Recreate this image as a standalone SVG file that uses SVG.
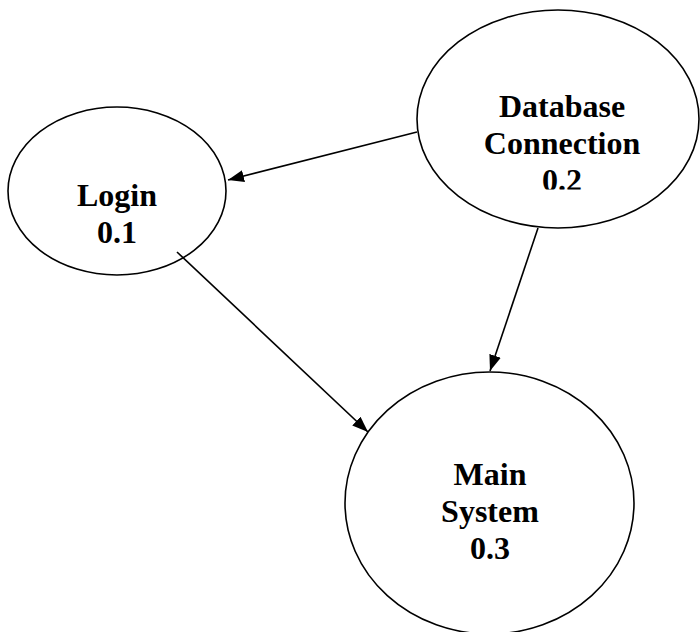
<svg xmlns="http://www.w3.org/2000/svg" width="700" height="632" viewBox="0 0 700 632">
<style>
.node { fill: #ffffff; stroke: #000000; stroke-width: 1.6; }
.lbl { font-family: "Liberation Serif", "Times New Roman", serif; font-weight: bold; font-size: 32px; fill: #000000; text-anchor: middle; }
.edge { stroke: #000000; stroke-width: 1.6; fill: none; marker-end: url(#arrow); }
</style>
<defs>
<marker id="arrow" markerUnits="userSpaceOnUse" markerWidth="16" markerHeight="12" refX="16" refY="6" orient="auto">
<path d="M0,0 L16,6 L0,12 z" fill="#000000"/>
</marker>
<clipPath id="dbclip"><rect x="400" y="0" width="300" height="189.5"/></clipPath>
</defs>
<rect width="700" height="632" fill="#ffffff"/>
<g id="node-login">
<ellipse class="node" cx="117" cy="191" rx="109" ry="84"/>
<text class="lbl" x="117" y="206">Login</text>
<text class="lbl" x="117" y="243">0.1</text>
</g>
<g id="node-database">
<ellipse class="node" cx="558" cy="119" rx="141" ry="109"/>
<g clip-path="url(#dbclip)">
<text class="lbl" x="562" y="117">Database</text>
<text class="lbl" x="562" y="154">Connection</text>
<text class="lbl" x="562" y="191">0.2</text>
</g>
</g>
<g id="node-main">
<ellipse class="node" cx="489.5" cy="503" rx="144.5" ry="131"/>
<text class="lbl" x="490" y="485">Main</text>
<text class="lbl" x="490" y="522">System</text>
<text class="lbl" x="490" y="559">0.3</text>
</g>
<g id="connectors">
<line class="edge" x1="417" y1="132" x2="228" y2="180"/>
<line class="edge" x1="177" y1="252" x2="368" y2="432"/>
<line class="edge" x1="538" y1="228" x2="490" y2="371"/>
</g>
</svg>
